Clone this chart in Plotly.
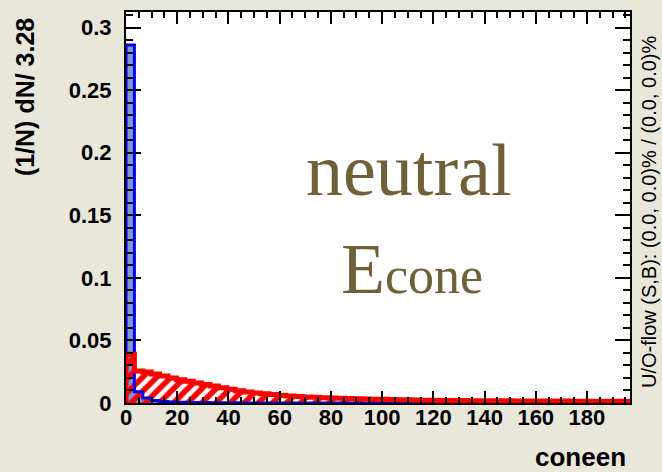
import plotly.graph_objects as go

# ---- data ----
bin_width = 3.28
n_bins = 60
bin_edges = [round(i * bin_width, 4) for i in range(n_bins + 1)]

signal_values = [0.286, 0.009, 0.004, 0.002, 0.0012, 0.0008, 0.0005, 0.0004,
                 0.0003, 0.0003, 0.0002, 0.0002, 0.0002, 0.0001] + [0.0] * 46

background_values = [0.039, 0.0255, 0.0248, 0.0232, 0.0215, 0.0200, 0.0186, 0.0174,
                     0.0160, 0.0148, 0.0135, 0.0122, 0.0110, 0.0098, 0.0088, 0.0080,
                     0.0073, 0.0067, 0.0061, 0.0056, 0.0052, 0.0048, 0.0045, 0.0042,
                     0.0040, 0.0037, 0.0035, 0.0033, 0.0032, 0.0030, 0.0029, 0.0027,
                     0.0026, 0.0025, 0.0023, 0.0022, 0.0021, 0.0020, 0.0020, 0.0019,
                     0.0019, 0.0018, 0.0018, 0.0017, 0.0017, 0.0017, 0.0016, 0.0016,
                     0.0016, 0.0015, 0.0015, 0.0015, 0.0015, 0.0014, 0.0014, 0.0014,
                     0.0014, 0.0013, 0.0013, 0.0013]

x_title = "coneen"
y_title = "(1/N) dN/ 3.28"
overflow_text = "U/O-flow (S,B): (0.0, 0.0)% / (0.0, 0.0)%"

# ---- derived geometry ----
centers = [(bin_edges[i] + bin_edges[i + 1]) / 2 for i in range(n_bins)]
step_x = [bin_edges[0]] + bin_edges[:n_bins] + [bin_edges[n_bins]]

def step_y(vals):
    return [0.0] + list(vals) + [0.0]

BG = "#e9e6da"
SIG_FILL = "#7d99d1"
SIG_LINE = "#0000ee"
BKG_LINE = "#ff0000"
TXT = "#706039"
SANS = "Liberation Sans"

fig = go.Figure()

fig.add_trace(go.Bar(x=centers, y=signal_values, width=bin_width,
                     marker=dict(color=SIG_FILL, line=dict(width=0), opacity=1),
                     showlegend=False, hoverinfo="skip"))
fig.add_trace(go.Scatter(x=step_x, y=step_y(signal_values), mode="lines",
                         line=dict(color=SIG_LINE, width=3, shape="hv"),
                         showlegend=False, hoverinfo="skip"))
fig.add_trace(go.Bar(x=centers, y=background_values, width=bin_width,
                     marker=dict(color="rgba(0,0,0,0)", line=dict(width=0), opacity=1,
                                 pattern=dict(shape="/", fgcolor=BKG_LINE, fgopacity=1,
                                              bgcolor="rgba(0,0,0,0)",
                                              size=10, solidity=0.55)),
                     showlegend=False, hoverinfo="skip"))
fig.add_trace(go.Scatter(x=step_x, y=step_y(background_values), mode="lines",
                         line=dict(color=BKG_LINE, width=5, shape="hv"),
                         showlegend=False, hoverinfo="skip"))

tickfont = dict(family=SANS, size=22, color="black", weight="bold")

fig.update_layout(
    width=662, height=472,
    margin=dict(l=126, r=32, t=10, b=69, pad=0),
    paper_bgcolor=BG, plot_bgcolor="white",
    barmode="overlay", bargap=0,
    showlegend=False,
    xaxis=dict(range=[0, bin_edges[-1]], showline=True, linewidth=2, linecolor="black",
               mirror="ticks", ticks="inside", ticklen=12, tickwidth=2, tickcolor="black",
               tick0=0, dtick=20, showgrid=False, zeroline=False, tickfont=tickfont,
               ticklabelstandoff=-6,
               minor=dict(dtick=5, ticklen=6, tickwidth=2, tickcolor="black", ticks="inside",
                          showgrid=False)),
    yaxis=dict(range=[0, 0.3124], showline=True, linewidth=2, linecolor="black",
               mirror="ticks", ticks="inside", ticklen=15, tickwidth=2, tickcolor="black",
               tick0=0, dtick=0.05, showgrid=False, zeroline=False, tickfont=tickfont,
               ticklabelstandoff=8,
               minor=dict(dtick=0.01, ticklen=7, tickwidth=2, tickcolor="black", ticks="inside",
                          showgrid=False)),
    annotations=[
        dict(text=y_title, xref="paper", yref="paper", x=-0.2, y=0.99,
             xanchor="center", yanchor="top", textangle=-90, showarrow=False,
             font=dict(family=SANS, size=25, color="black", weight="bold")),
        dict(text=x_title, xref="paper", yref="paper", x=0.996, y=-0.137,
             xanchor="right", yanchor="middle", showarrow=False,
             font=dict(family=SANS, size=26, color="black", weight="bold")),
        dict(text=overflow_text, xref="paper", yref="paper", x=1.039, y=0.49,
             xanchor="center", yanchor="middle", textangle=-90, showarrow=False,
             font=dict(family=SANS, size=20, color="black")),
        dict(text="neutral", xref="paper", yref="paper", x=0.5615, y=0.595,
             xanchor="center", yanchor="middle", showarrow=False,
             font=dict(family="Liberation Serif", size=74, color=TXT)),
        dict(text="E<span style='font-size:52px'>cone</span>", xref="paper", yref="paper",
             x=0.568, y=0.3435, xanchor="center", yanchor="middle", showarrow=False,
             font=dict(family="Liberation Serif", size=72, color=TXT)),
    ],
)

fig.write_html("out.html", config={"displayModeBar": False},
               post_script="document.body.style.margin='0';document.body.style.padding='0';")
